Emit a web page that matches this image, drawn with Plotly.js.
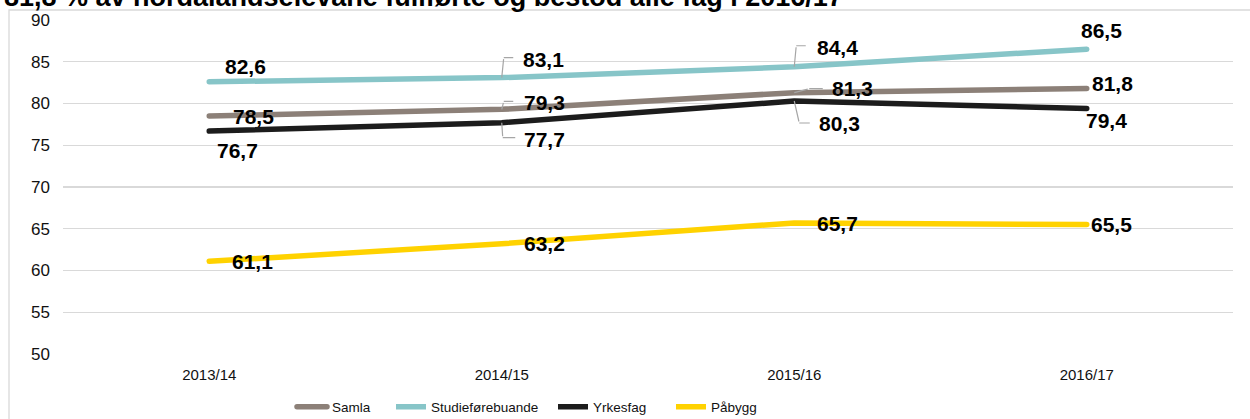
<!DOCTYPE html>
<html>
<head>
<meta charset="utf-8">
<script src="https://cdn.plot.ly/plotly-3.0.1.min.js"></script>
<style>
html,body{margin:0;padding:0;background:#fff;}
#chart{width:1250px;height:419px;}
.scatterlayer .js-line{stroke-linecap:round;stroke-linejoin:round;}
.legend .js-line{stroke-linecap:round;}
</style>
</head>
<body>
<div id="chart"></div>
<script>
// ---- data ----
const titleText = "81,8 % av hordalandselevane fullførte og bestod alle fag i 2016/17";
const categories = ["2013/14", "2014/15", "2015/16", "2016/17"];
const seriesNames = ["Samla", "Studieførebuande", "Yrkesfag", "Påbygg"];
const samla = [78.5, 79.3, 81.3, 81.8];
const studieforebuande = [82.6, 83.1, 84.4, 86.5];
const yrkesfag = [76.7, 77.7, 80.3, 79.4];
const pabygg = [61.1, 63.2, 65.7, 65.5];
const yTicks = [50, 55, 60, 65, 70, 75, 80, 85, 90];

// ---- styling ----
const FONT = '"Liberation Sans", Arial, sans-serif';
const colors = ["#8C8078", "#87C5C8", "#1C1C1C", "#FFD200"];
const seriesValues = [samla, studieforebuande, yrkesfag, pabygg];
const legendIds = ['legend', 'legend2', 'legend3', 'legend4'];
const legendX = [292, 391, 553, 671]; // px from left of page
// label offsets in pixels [dx, dy(down)]
const labelOffsets = [
  [[44, 0], [43, -7], [58, -4], [26, -5]],
  [[36, -15], [42, -18], [43, -19], [15, -19]],
  [[28, 19], [43, 17], [45, 22], [20, 12]],
  [[43, 0], [43, 0], [43, 1], [25, 0]]
];
// leader elbows [p1x, p1y, p2x, p2y] relative to point, null = no leader
const leaders = [
  [null, [2, -8, 13, -8], [15, -4, 30, -4], null],
  [null, [2, -20, 13, -20], [2, -21, 13, -21], null],
  [null, [1, 15, 15, 15], [5, 22, 17, 22], null],
  [null, null, null, null]
];

const fmt = v => v.toFixed(1).replace('.', ',');

const traces = seriesNames.map((name, i) => ({
  type: 'scatter',
  mode: 'lines',
  name: name,
  legend: legendIds[i],
  x: categories,
  y: seriesValues[i],
  line: {color: colors[i], width: 5.5},
  hoverinfo: 'skip'
}));

const annotations = [];
seriesValues.forEach((vals, i) => {
  vals.forEach((v, j) => {
    const L = leaders[i][j];
    if (L) {
      annotations.push({
        x: categories[j], y: v, xref: 'x', yref: 'y', text: '',
        showarrow: true, arrowhead: 0, arrowwidth: 1.2, arrowcolor: '#A6A6A6',
        ax: L[0], ay: L[1], standoff: 0, startstandoff: 0
      });
      annotations.push({
        x: categories[j], y: v, xref: 'x', yref: 'y', text: '',
        xshift: L[0], yshift: -L[1],
        showarrow: true, arrowhead: 0, arrowwidth: 1.2, arrowcolor: '#A6A6A6',
        ax: L[2] - L[0], ay: L[3] - L[1], standoff: 0, startstandoff: 0
      });
    }
    const off = labelOffsets[i][j];
    annotations.push({
      x: categories[j], y: v, xref: 'x', yref: 'y',
      text: '<b>' + fmt(v) + '</b>', showarrow: false,
      xshift: off[0], yshift: -off[1],
      xanchor: 'center', yanchor: 'middle',
      font: {family: FONT, size: 21, color: '#000'}
    });
  });
});

// title (partly cut at the top edge, as in the reference)
annotations.push({
  xref: 'paper', yref: 'paper', x: -0.0521, y: 1.018,
  xanchor: 'left', yanchor: 'bottom', showarrow: false,
  text: '<b>' + titleText + '</b>',
  font: {family: FONT, size: 27, color: '#000'}
});

const layout = {
  width: 1250, height: 419,
  margin: {l: 63, r: 17, t: 20, b: 65},
  paper_bgcolor: '#fff', plot_bgcolor: '#fff',
  font: {family: FONT, color: '#000'},
  showlegend: true,
  xaxis: {
    type: 'category', range: [-0.5, 3.5], automargin: false,
    showgrid: false, zeroline: false, showline: false, ticks: '',
    ticklabelstandoff: 10,
    tickfont: {family: FONT, size: 15, color: '#111'},
    fixedrange: true
  },
  yaxis: {
    range: [50, 90], tickvals: yTicks, ticktext: yTicks.map(String),
    automargin: false,
    showgrid: true, gridcolor: '#D9D9D9', gridwidth: 1.3,
    zeroline: false, showline: false, ticks: '',
    ticklabelstandoff: 12,
    tickfont: {family: FONT, size: 17, color: '#111'},
    fixedrange: true
  },
  shapes: [{
    type: 'rect', xref: 'paper', yref: 'paper',
    x0: -0.04615, x1: 1.05, y0: -0.4, y1: 1.02994,
    line: {color: '#D9D9D9', width: 1.3}, layer: 'below'
  }],
  annotations: annotations
};
legendIds.forEach((id, i) => {
  layout[id] = {
    orientation: 'h', xref: 'container', yref: 'container',
    x: legendX[i] / 1250, xanchor: 'left', y: 0.0286, yanchor: 'middle',
    bgcolor: 'rgba(0,0,0,0)',
    font: {family: FONT, size: 13.5, color: '#111'}
  };
});

Plotly.newPlot('chart', traces, layout, {staticPlot: true, displayModeBar: false});
</script>
</body>
</html>
